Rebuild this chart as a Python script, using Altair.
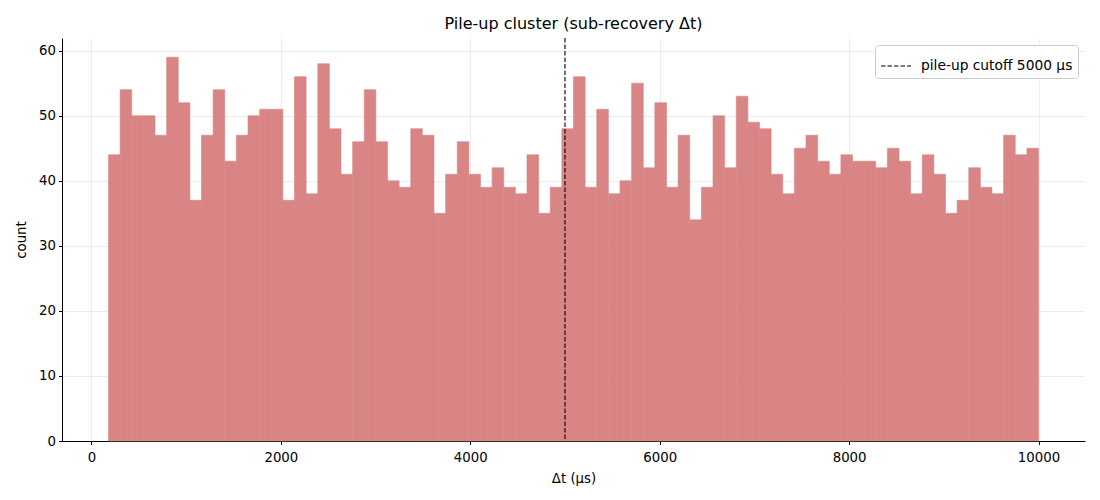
import altair as alt
import numpy as np
import pandas as pd

counts = [44, 54, 50, 50, 47, 59, 52, 37, 47, 54, 43, 47, 50, 51, 51, 37, 56, 38, 58, 48,
          41, 46, 54, 46, 40, 39, 48, 47, 35, 41, 46, 41, 39, 42, 39, 38, 44, 35, 39, 48,
          56, 39, 51, 38, 40, 55, 42, 52, 39, 47, 34, 39, 50, 42, 53, 49, 48, 41, 38, 45,
          47, 43, 41, 44, 43, 43, 42, 45, 43, 38, 44, 41, 35, 37, 42, 39, 38, 47, 44, 45]
bin_min = 180
bin_max = 10000
cutoff = 5000
cutoff_label = ["pile-up cutoff 5000 μs"]

edges = np.linspace(bin_min, bin_max, len(counts) + 1)
hist = pd.DataFrame({"lo": edges[:-1], "hi": edges[1:], "count": counts})
rule_df = pd.DataFrame({"x": [cutoff], "label": cutoff_label})

FONT = "DejaVu Sans"
xscale = alt.Scale(domain=[-311, 10491], nice=False, zero=False)
yscale = alt.Scale(domain=[0, 61.95], nice=False)

bars = alt.Chart(hist).mark_rect(color="#d98585", stroke="#d98585", strokeWidth=0.6).encode(
    x=alt.X("lo:Q", scale=xscale,
            axis=alt.Axis(title="Δt (μs)", values=[0, 2000, 4000, 6000, 8000, 10000],
                          format="d")),
    x2="hi:Q",
    y=alt.Y("count:Q", scale=yscale,
            axis=alt.Axis(title="count", values=[0, 10, 20, 30, 40, 50, 60])),
    y2=alt.datum(0),
)

rule = alt.Chart(rule_df).mark_rule(color="black", strokeWidth=1.1).encode(
    x=alt.X("x:Q", scale=xscale),
    strokeDash=alt.StrokeDash(
        "label:N",
        scale=alt.Scale(range=[[4.5, 2]]),
        legend=alt.Legend(title=None, orient="top-right", offset=7,
                          symbolType="stroke", symbolSize=900,
                          symbolStrokeWidth=1.1, symbolStrokeColor="black",
                          labelFont=FONT, labelFontSize=13.8, labelColor="black",
                          labelLimit=400, labelOffset=9,
                          fillColor="white", strokeColor="#cccccc",
                          cornerRadius=3, padding=5),
    ),
)

chart = alt.layer(bars, rule).properties(
    width=1023, height=403,
    title=alt.TitleParams("Pile-up cluster (sub-recovery Δt)", font=FONT, fontSize=16,
                          fontWeight="normal", color="black", offset=5),
    padding={"left": 54, "top": 30, "right": 7, "bottom": 50},
    autosize=alt.AutoSizeParams(type="none"),
).configure_axis(
    labelFont=FONT, labelFontSize=13.3, labelColor="black",
    titleFont=FONT, titleFontSize=13.3, titleColor="black", titleFontWeight="normal",
    domainColor="black", tickColor="black", tickSize=3.5, labelPadding=3,
    grid=True, gridColor="#b0b0b0", gridOpacity=0.3, gridWidth=0.8,
).configure_axisX(labelPadding=6, titlePadding=8).configure_axisY(
    titlePadding=10).configure_view(stroke=None)

chart.save("out.html", embed_options={"renderer": "svg", "actions": False})
